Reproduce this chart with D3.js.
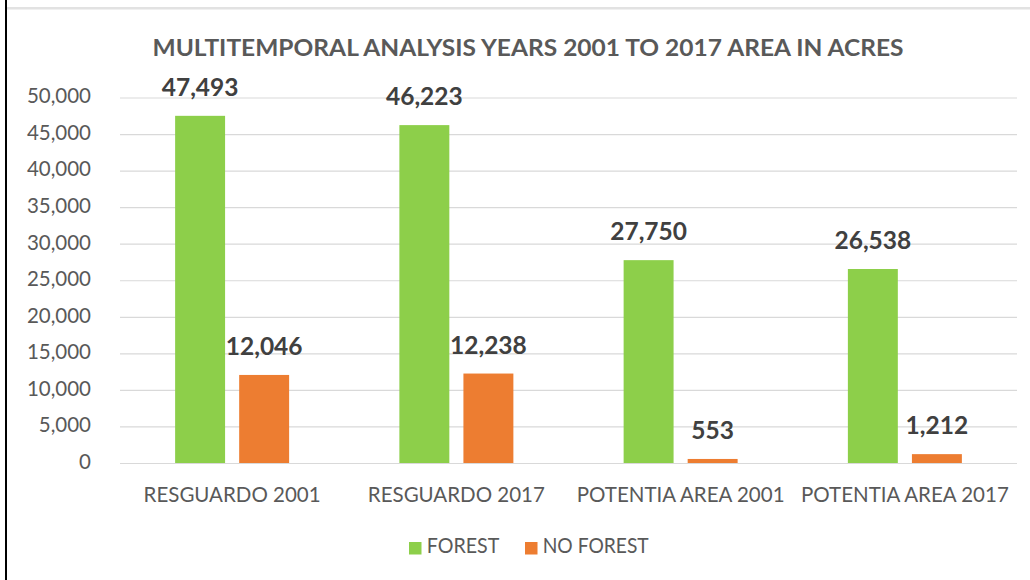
<!DOCTYPE html>
<html>
<head>
<meta charset="utf-8">
<script src="https://cdn.jsdelivr.net/npm/d3@7"></script>
<style>
  html, body { margin: 0; padding: 0; background: #ffffff; }
  svg { display: block; }
  text { font-family: Lato, "Open Sans", sans-serif; }
</style>
</head>
<body>
<svg id="chart" width="1030" height="580"></svg>
<script>
const categories = ["RESGUARDO 2001", "RESGUARDO 2017", "POTENTIA AREA 2001", "POTENTIA AREA 2017"];
const seriesNames = ["FOREST", "NO FOREST"];
const forestValues = [47493, 46223, 27750, 26538];
const noForestValues = [12046, 12238, 553, 1212];
const yTicks = [0, 5000, 10000, 15000, 20000, 25000, 30000, 35000, 40000, 45000, 50000];
const titleText = "MULTITEMPORAL ANALYSIS YEARS 2001 TO 2017 AREA IN ACRES";

const colors = { "FOREST": "#8DCF4A", "NO FOREST": "#ED7D31" };
const seriesValues = { "FOREST": forestValues, "NO FOREST": noForestValues };

const svg = d3.select("#chart");

// frame decorations (page border and chart top edge)
svg.append("rect").attr("x", 5).attr("y", 0).attr("width", 2).attr("height", 580).attr("fill", "#000");
svg.append("rect").attr("x", 7).attr("y", 7).attr("width", 1023).attr("height", 2.5).attr("fill", "#e2e2e2");

const plotLeft = 120, plotRight = 1017, plotTop = 97.5, plotBottom = 463;

const y = d3.scaleLinear().domain([0, 50000]).range([plotBottom, plotTop]);
const pIn = 1 - 114 / ((plotRight - plotLeft) / categories.length);
const x0 = d3.scaleBand().domain(categories).range([plotLeft, plotRight]).paddingInner(pIn).paddingOuter(pIn / 2);
const x1 = d3.scaleBand().domain(seriesNames).range([0, x0.bandwidth()]).paddingInner(0.22).paddingOuter(0);

// gridlines
const yAxis = d3.axisLeft(y).tickValues(yTicks).tickSize(-(plotRight - plotLeft)).tickFormat(d3.format(","));
const gAxis = svg.append("g").attr("transform", `translate(${plotLeft},0)`).call(yAxis);
gAxis.select(".domain").remove();
gAxis.selectAll(".tick line").attr("stroke", "#d9d9d9").attr("stroke-width", 1.2);
gAxis.selectAll(".tick text")
  .attr("x", -29).attr("dy", "0.26em")
  .attr("fill", "#595959").attr("font-size", 20.5).attr("text-anchor", "end");

// title
svg.append("text").attr("x", 528).attr("y", 56).attr("text-anchor", "middle")
  .attr("font-size", 23).attr("font-weight", "bold").attr("fill", "#595959")
  .attr("textLength", 751).attr("lengthAdjust", "spacingAndGlyphs")
  .text(titleText);

// bars
const rows = categories.map((c, i) => ({ cat: c, vals: seriesNames.map(s => ({ s, v: seriesValues[s][i] })) }));
const groups = svg.append("g").selectAll("g").data(rows).join("g")
  .attr("transform", d => `translate(${x0(d.cat)},0)`);
groups.selectAll("rect").data(d => d.vals).join("rect")
  .attr("x", d => x1(d.s)).attr("width", x1.bandwidth())
  .attr("y", d => y(d.v)).attr("height", d => y(0) - y(d.v))
  .attr("fill", d => colors[d.s]);
groups.selectAll("text").data(d => d.vals).join("text")
  .attr("x", d => x1(d.s) + x1.bandwidth() / 2)
  .attr("y", d => y(d.v) - 20)
  .attr("text-anchor", "middle").attr("font-size", 24.5).attr("font-weight", "bold").attr("fill", "#404040")
  .text(d => d3.format(",")(d.v));

// category labels
const xAxis = d3.axisBottom(x0).tickSize(0).tickPadding(0);
const gx = svg.append("g").attr("transform", `translate(0,${plotBottom})`).call(xAxis);
gx.select(".domain").remove();
gx.selectAll(".tick text").attr("y", 38.5).attr("dy", 0)
  .attr("fill", "#595959").attr("font-size", 20.5).attr("font-family", "Lato, sans-serif");

// legend
const legendItems = [
  { name: "FOREST", sx: 409, tx: 426.7, w: 72.6 },
  { name: "NO FOREST", sx: 525, tx: 542.7, w: 106 }
];
const lg = svg.append("g");
lg.selectAll("rect").data(legendItems).join("rect")
  .attr("x", d => d.sx).attr("y", 542).attr("width", 12.5).attr("height", 12.5)
  .attr("fill", d => colors[d.name]);
lg.selectAll("text").data(legendItems).join("text")
  .attr("x", d => d.tx).attr("y", 553.3)
  .attr("font-size", 20.5).attr("fill", "#595959")
  .attr("textLength", d => d.w).attr("lengthAdjust", "spacingAndGlyphs")
  .text(d => d.name);
</script>
</body>
</html>
